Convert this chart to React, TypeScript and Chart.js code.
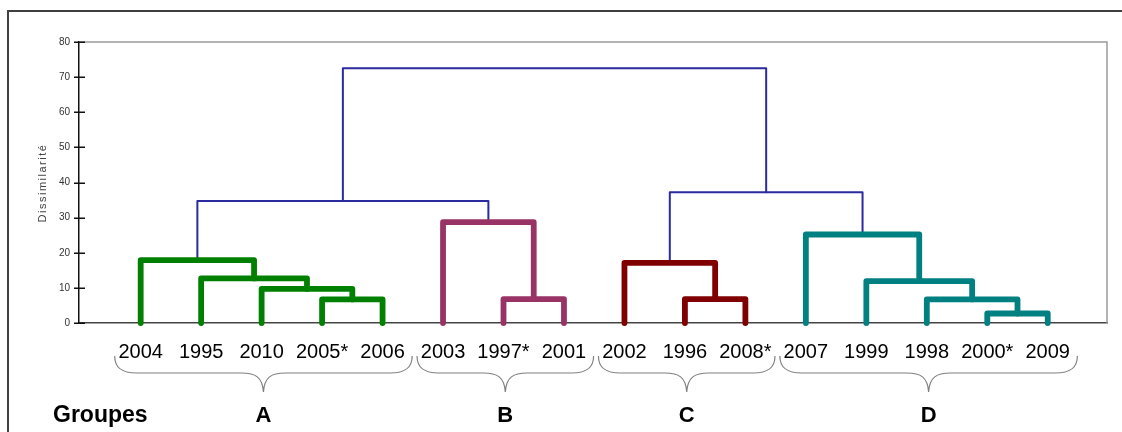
import React, { useEffect, useRef } from 'react';
import { Chart, registerables } from 'chart.js';

Chart.register(...registerables);

const FONT = '"Liberation Sans", Arial, sans-serif';

// Leaves (years) in dendrogram order
const leaves = ['2004', '1995', '2010', '2005*', '2006', '2003', '1997*', '2001', '2002', '1996', '2008*', '2007', '1999', '1998', '2000*', '2009'];

// Groups
const groupNames = ['A', 'B', 'C', 'D'];
const groupFirst = [0, 5, 8, 11];
const groupLast = [4, 7, 10, 15];
const groupColors = ['#008000', '#993366', '#800000', '#008080'];
const linkColor = '#2b2b9f';

// Merges (node ids: leaves 0..15, merge i -> 16 + i)
const mergeLeft = [3, 2, 1, 0, 6, 5, 9, 8, 14, 13, 12, 11, 19, 23, 28];
const mergeRight = [4, 16, 17, 18, 7, 20, 10, 22, 15, 24, 25, 26, 21, 27, 29];
const mergeHeight = [6.7, 9.7, 12.7, 17.9, 6.8, 28.7, 6.8, 17.1, 2.7, 6.7, 11.9, 25.2, 34.7, 37.2, 72.5];
const mergeGroup = [0, 0, 0, 0, 1, 1, 2, 2, 3, 3, 3, 3, -1, -1, -1];

// Y axis ticks
const yTicks = [0, 10, 20, 30, 40, 50, 60, 70, 80];
const yTitle = 'Dissimilarité';
const groupsTitle = 'Groupes';

function buildDatasets() {
  const nodeX: number[] = leaves.map((_, i) => i);
  const nodeH: number[] = leaves.map(() => 0);
  const ds: any[] = [];
  mergeLeft.forEach((l, i) => {
    const r = mergeRight[i];
    const h = mergeHeight[i];
    const xl = nodeX[l];
    const xr = nodeX[r];
    const hl = nodeH[l];
    const hr = nodeH[r];
    nodeX.push((xl + xr) / 2);
    nodeH.push(h);
    const g = mergeGroup[i];
    ds.push({
      data: [
        { x: xl, y: hl },
        { x: xl, y: h },
        { x: xr, y: h },
        { x: xr, y: hr },
      ],
      borderColor: g >= 0 ? groupColors[g] : linkColor,
      borderWidth: g >= 0 ? 5.8 : 2,
      borderCapStyle: 'round',
      borderJoinStyle: 'round',
      pointRadius: 0,
      fill: false,
      tension: 0,
      clip: false,
      order: g >= 0 ? 0 : 1,
    });
  });
  return ds;
}

const decor = {
  id: 'decor',
  afterDraw(chart: any) {
    const { ctx, chartArea: a, scales } = chart;
    const x = scales.x;
    const y = scales.y;
    ctx.save();
    // plot frame (top & right)
    ctx.strokeStyle = '#9a9a9a';
    ctx.lineWidth = 1.5;
    ctx.beginPath();
    ctx.moveTo(a.left, a.top);
    ctx.lineTo(a.right, a.top);
    ctx.lineTo(a.right, a.bottom);
    ctx.stroke();
    // y tick marks crossing the axis
    ctx.strokeStyle = '#111';
    ctx.lineWidth = 1.5;
    ctx.beginPath();
    yTicks.forEach((v) => {
      const py = Math.round(y.getPixelForValue(v)) + 0.25;
      ctx.moveTo(a.left - 5, py);
      ctx.lineTo(a.left + 6, py);
    });
    ctx.stroke();
    // y title
    ctx.save();
    ctx.translate(43, 183);
    ctx.rotate(-Math.PI / 2);
    ctx.fillStyle = '#444';
    ctx.font = `11px ${FONT}`;
    (ctx as any).letterSpacing = '1.5px';
    ctx.textAlign = 'center';
    ctx.textBaseline = 'middle';
    ctx.fillText(yTitle, 0, 0);
    ctx.restore();
    // braces + group labels
    const yTop = 356;
    const yMid = 373;
    const yTip = 392;
    const r = 22;
    ctx.strokeStyle = '#808080';
    ctx.lineWidth = 1.2;
    groupNames.forEach((name, g) => {
      const x0 = x.getPixelForValue(groupFirst[g] - 0.43);
      const x1 = x.getPixelForValue(groupLast[g] + 0.49);
      const xm = (x0 + x1) / 2;
      ctx.beginPath();
      ctx.moveTo(x0, yTop);
      ctx.bezierCurveTo(x0, yMid - 6, x0 + 6, yMid, x0 + r, yMid);
      ctx.lineTo(xm - r, yMid);
      ctx.bezierCurveTo(xm - 8, yMid, xm - 1, yMid + 4, xm, yTip);
      ctx.moveTo(xm, yTip);
      ctx.bezierCurveTo(xm + 1, yMid + 4, xm + 8, yMid, xm + r, yMid);
      ctx.lineTo(x1 - r, yMid);
      ctx.bezierCurveTo(x1 - 6, yMid, x1, yMid - 6, x1, yTop);
      ctx.stroke();
      ctx.fillStyle = '#000';
      ctx.font = `bold 22px ${FONT}`;
      ctx.textAlign = 'center';
      ctx.textBaseline = 'alphabetic';
      ctx.fillText(name, xm, 421.5);
    });
    ctx.fillStyle = '#000';
    ctx.font = `bold 23px ${FONT}`;
    ctx.textAlign = 'left';
    ctx.textBaseline = 'alphabetic';
    ctx.fillText(groupsTitle, 53, 421.5);
    ctx.restore();
  },
};

export default function App() {
  const ref = useRef<HTMLCanvasElement | null>(null);
  useEffect(() => {
    if (!ref.current) return;
    const chart = new Chart(ref.current, {
      type: 'line',
      data: { datasets: buildDatasets() },
      options: {
        animation: false,
        responsive: false,
        events: [],
        layout: { padding: { left: 39, top: 42, right: 15, bottom: 59 } },
        plugins: { legend: { display: false }, tooltip: { enabled: false } },
        elements: { point: { radius: 0 } },
        scales: {
          x: {
            type: 'linear',
            min: -1.02,
            max: 15.98,
            grid: { display: false, drawTicks: false },
            border: { display: true, color: '#444', width: 1.5 },
            afterBuildTicks: (s: any) => {
              s.ticks = leaves.map((_, i) => ({ value: i }));
            },
            afterFit: (s: any) => {
              s.height = 50;
            },
            ticks: {
              autoSkip: false,
              maxRotation: 0,
              minRotation: 0,
              padding: 17,
              color: '#000',
              font: { family: FONT, size: 20 },
              callback: (v: any) => leaves[v as number] ?? '',
            },
          },
          y: {
            type: 'linear',
            min: 0,
            max: 80,
            grid: { display: false, drawTicks: false },
            border: { display: true, color: '#111', width: 1.5 },
            afterBuildTicks: (s: any) => {
              s.ticks = yTicks.map((v) => ({ value: v }));
            },
            afterFit: (s: any) => {
              s.width = 40;
            },
            ticks: {
              padding: 9,
              color: '#333',
              font: { family: FONT, size: 10 },
              callback: (v: any) => String(v),
            },
          },
        },
      } as any,
      plugins: [decor],
    });
    return () => chart.destroy();
  }, []);
  return (
    <>
      <div
        style={{
          position: 'fixed',
          left: 7,
          top: 10,
          width: 1200,
          height: 500,
          borderLeft: '2px solid #404040',
          borderTop: '2px solid #404040',
        }}
      />
      <canvas
        ref={ref}
        width={1122}
        height={432}
        style={{ position: 'fixed', left: 0, top: 0, width: 1122, height: 432 }}
      />
    </>
  );
}
